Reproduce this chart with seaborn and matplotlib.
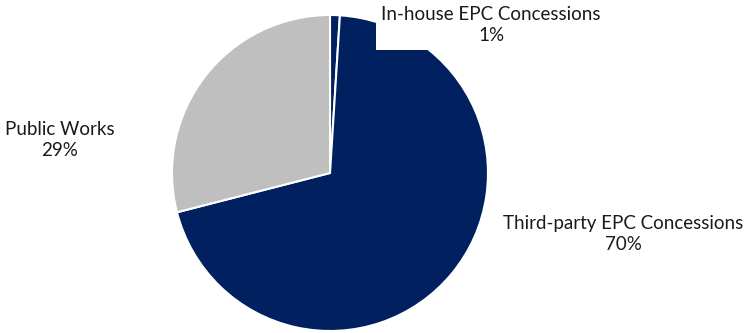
import matplotlib
matplotlib.use("Agg")
import matplotlib.pyplot as plt
import seaborn as sns

categories = ["In-house EPC Concessions", "Third-party EPC Concessions", "Public Works"]
values = [1, 70, 29]
pct_labels = ["1%", "70%", "29%"]
colors = ["#002060", "#002060", "#BFBFBF"]

sns.set_style("white")
plt.rcParams["font.family"] = ["Lato", "DejaVu Sans"]

fig = plt.figure(figsize=(7.46, 3.33), dpi=100)
ax = fig.add_axes([0, 0, 1, 1])
ax.pie(values, colors=colors, startangle=90, counterclock=False,
       center=(330, 333 - 173), radius=158,
       wedgeprops=dict(edgecolor="white", linewidth=1.5))
ax.set_xlim(0, 746)
ax.set_ylim(0, 333)
ax.set_aspect("equal")
ax.axis("off")

label_pos = [(491, 333 - 25), (623, 333 - 234), (60, 333 - 140)]
for cat, pct, (x, y), i in zip(categories, pct_labels, label_pos, range(3)):
    kw = {}
    if i == 0:
        kw["bbox"] = dict(facecolor="white", edgecolor="none", pad=4)
    ax.text(x, y, f"{cat}\n{pct}", ha="center", va="center", fontsize=13.5,
            color="#1a1a1a", linespacing=1.3, zorder=5, **kw)

fig.savefig("out.png", dpi=100)
